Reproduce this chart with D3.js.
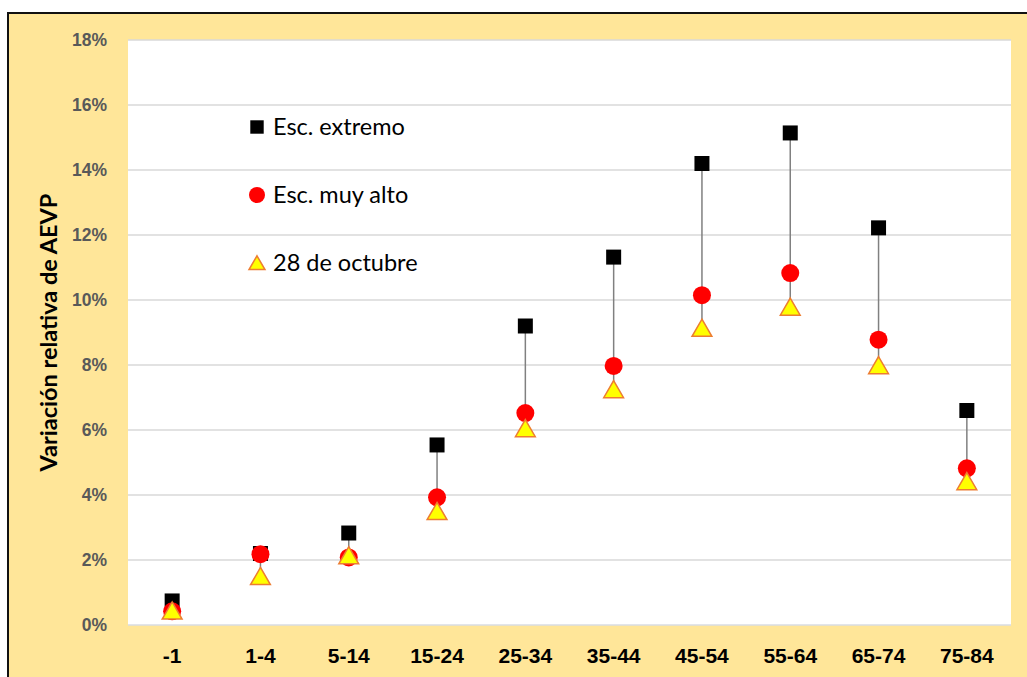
<!DOCTYPE html>
<html>
<head>
<meta charset="utf-8">
<script src="https://cdn.jsdelivr.net/npm/d3@7"></script>
<style>
  body { margin: 0; background: #fff; }
  svg { display: block; font-family: Lato, "Open Sans", sans-serif; }
</style>
</head>
<body>
<div id="chart"></div>
<script>
// age groups on the x axis
const categories = ["-1", "1-4", "5-14", "15-24", "25-34", "35-44", "45-54", "55-64", "65-74", "75-84"];
// relative AEVP variation, in %
const extremo = [0.74, 2.2, 2.83, 5.54, 9.2, 11.32, 14.2, 15.14, 12.22, 6.6];
const muyAlto = [0.42, 2.18, 2.08, 3.93, 6.52, 7.97, 10.15, 10.83, 8.78, 4.82];
const octubre = [0.42, 1.48, 2.12, 3.48, 6.03, 7.23, 9.12, 9.77, 7.97, 4.4];
const yTicks = [0, 2, 4, 6, 8, 10, 12, 14, 16, 18];
const seriesNames = ["Esc. extremo", "Esc. muy alto", "28 de octubre"];

const width = 1027;
const height = 677;
const plot = { left: 128, right: 1011, top: 40, bottom: 625 };

const svg = d3.select("#chart").append("svg")
  .attr("width", width)
  .attr("height", height);

// chart background + frame
svg.append("rect")
  .attr("x", 8).attr("y", 13)
  .attr("width", width + 10).attr("height", height + 10)
  .attr("fill", "#FFE699")
  .attr("stroke", "#111")
  .attr("stroke-width", 2);

svg.append("rect")
  .attr("x", plot.left).attr("y", plot.top)
  .attr("width", plot.right - plot.left)
  .attr("height", plot.bottom - plot.top)
  .attr("fill", "#fff");

const x = d3.scaleBand()
  .domain(categories)
  .range([plot.left, plot.right]);

const y = d3.scaleLinear()
  .domain([0, 18])
  .range([plot.bottom, plot.top]);

// gridlines
svg.append("g")
  .selectAll("line")
  .data(yTicks)
  .join("line")
  .attr("x1", plot.left).attr("x2", plot.right)
  .attr("y1", d => y(d)).attr("y2", d => y(d))
  .attr("stroke", d => d === 0 ? "#D9DCE3" : "#D9D9D9")
  .attr("stroke-width", 1.5);

// y axis
const yAxis = svg.append("g")
  .attr("transform", `translate(${plot.left},0)`)
  .call(d3.axisLeft(y).tickValues(yTicks).tickFormat(d => d + "%").tickSize(0).tickPadding(21));
yAxis.select(".domain").remove();
yAxis.selectAll("text")
  .attr("fill", "#595959")
  .style("font-size", "17.5px")
  .style("font-weight", "bold");

// x axis
const xAxis = svg.append("g")
  .attr("transform", `translate(0,${plot.bottom})`)
  .call(d3.axisBottom(x).tickSize(0).tickPadding(23));
xAxis.select(".domain").remove();
xAxis.selectAll("text")
  .attr("fill", "#000")
  .style("font-size", "21px")
  .style("font-weight", "bold");

// axis title
svg.append("text")
  .attr("transform", `translate(57,${(plot.top + plot.bottom) / 2}) rotate(-90)`)
  .attr("text-anchor", "middle")
  .style("font-size", "23.5px")
  .style("font-weight", "bold")
  .text("Variación relativa de AEVP");

const cx = i => x(categories[i]) + x.bandwidth() / 2;

// high-low lines
svg.append("g")
  .selectAll("line")
  .data(categories)
  .join("line")
  .attr("x1", (d, i) => cx(i)).attr("x2", (d, i) => cx(i))
  .attr("y1", (d, i) => y(Math.max(extremo[i], muyAlto[i], octubre[i])))
  .attr("y2", (d, i) => y(Math.min(extremo[i], muyAlto[i], octubre[i])))
  .attr("stroke", "#808080")
  .attr("stroke-width", 1.5);

const square = d3.symbol().type(d3.symbolSquare);
const triangle = d3.symbol().type(d3.symbolTriangle);

// squares
svg.append("g")
  .selectAll("path")
  .data(extremo)
  .join("path")
  .attr("transform", (d, i) => `translate(${cx(i)},${y(d)})`)
  .attr("d", square.size(225))
  .attr("fill", "#000");

// circles
svg.append("g")
  .selectAll("circle")
  .data(muyAlto)
  .join("circle")
  .attr("cx", (d, i) => cx(i))
  .attr("cy", d => y(d))
  .attr("r", 9)
  .attr("fill", "#FF0000");

// triangles
svg.append("g")
  .selectAll("path")
  .data(octubre)
  .join("path")
  .attr("transform", (d, i) => `translate(${cx(i)},${y(d) + 2})`)
  .attr("d", triangle.size(170))
  .attr("fill", "#FFFF00")
  .attr("stroke", "#ED7D31")
  .attr("stroke-width", 1.5);

// legend
const legend = svg.append("g").attr("transform", "translate(257,127)");
const rows = legend.selectAll("g")
  .data(seriesNames)
  .join("g")
  .attr("transform", (d, i) => `translate(0,${i * 68})`);

rows.filter((d, i) => i === 0).append("path")
  .attr("d", square.size(180)).attr("fill", "#000");
rows.filter((d, i) => i === 1).append("circle")
  .attr("r", 8).attr("fill", "#FF0000");
rows.filter((d, i) => i === 2).append("path")
  .attr("transform", "translate(0,2)")
  .attr("d", triangle.size(110))
  .attr("fill", "#FFFF00")
  .attr("stroke", "#ED7D31")
  .attr("stroke-width", 1.5);

rows.append("text")
  .attr("x", 16)
  .attr("dy", "0.35em")
  .style("font-size", "23.5px")
  .text(d => d);
</script>
</body>
</html>
